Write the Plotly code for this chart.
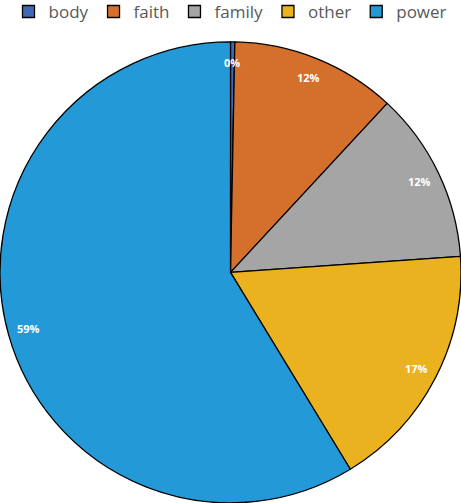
import math
import plotly.graph_objects as go

labels = ["body", "faith", "family", "other", "power"]
values = [0.3, 11.6, 12.0, 17.4, 58.7]
colors = ["#3F69B5", "#D4702C", "#A5A5A5", "#EAB21F", "#239AD7"]

W, H = 461, 503
dom_y = [0.0, 0.917]
dom_x = [0.0, 1.0]

fig = go.Figure(go.Pie(
    labels=labels,
    values=values,
    sort=False,
    direction="clockwise",
    rotation=0,
    marker=dict(colors=colors, line=dict(color="#000000", width=1.3)),
    textinfo="none",
    domain=dict(x=dom_x, y=dom_y),
    hoverinfo="label+percent",
))

# percentage labels placed at slice mid-angles, ~0.9 of the radius
cx = (dom_x[0] + dom_x[1]) / 2 * W
cy = (1 - (dom_y[0] + dom_y[1]) / 2) * H
r = min((dom_x[1] - dom_x[0]) * W, (dom_y[1] - dom_y[0]) * H) / 2
total = sum(values)
cum = 0.0
annotations = []
for v in values:
    frac = v / total
    mid = (cum + frac / 2) * 2 * math.pi
    cum += frac
    px = cx + 0.91 * r * math.sin(mid)
    py = cy - 0.91 * r * math.cos(mid)
    annotations.append(dict(
        x=px / W, y=1 - py / H, xref="paper", yref="paper",
        text="<b>%d%%</b>" % round(frac * 100), showarrow=False,
        font=dict(color="white", size=11, family="Open Sans"),
        xanchor="center", yanchor="middle",
    ))

fig.update_layout(
    width=W, height=H,
    margin=dict(l=0, r=0, t=0, b=0, autoexpand=False),
    paper_bgcolor="white",
    showlegend=True,
    legend=dict(orientation="h", x=0.5, xanchor="center", y=1.012, yanchor="top",
                font=dict(size=17, color="#595959", family="Open Sans"),
                itemwidth=30, tracegroupgap=0, bgcolor="rgba(0,0,0,0)"),
    annotations=annotations,
)

fig.write_html("out.html", config={"displayModeBar": False},
               post_script="document.body.style.margin='0';")
